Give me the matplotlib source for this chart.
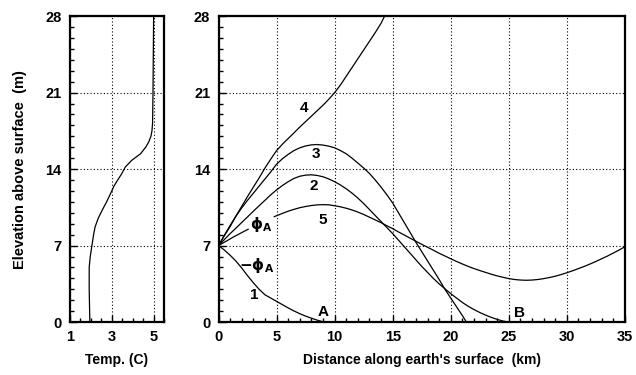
import matplotlib.pyplot as plt
from matplotlib.ticker import MultipleLocator

plt.rcParams['font.family'] = ['Liberation Sans', 'DejaVu Sans']
plt.rcParams['font.weight'] = 'bold'

# temperature profile (left panel)
temp = [1.95, 1.92, 1.92, 1.97, 2.05, 2.13, 2.20, 2.35, 2.53, 2.75, 3.00, 3.09, 3.28, 3.45,
        3.65, 3.95, 4.37, 4.62, 4.77, 4.87, 4.92, 4.95, 4.97, 5.00]
temp_z = [0, 3, 5, 6, 7, 8, 8.7, 9.5, 10.2, 11, 12, 12.4, 13, 13.5, 14.2, 14.8, 15.4, 16,
          16.5, 17, 17.5, 18.2, 21, 28]

# ray paths (right panel), distance in km, elevation in m
ray1_x = [0, 0.5, 1, 1.5, 2, 2.5, 3, 3.5, 4, 4.5, 5, 5.5, 6, 6.5, 7, 7.5, 8, 8.5, 9, 9.1]
ray1_z = [7, 6.6, 6.12, 5.58, 4.95, 4.25, 3.6, 3.0, 2.5, 2.2, 1.9, 1.6, 1.3, 1.02, 0.77,
          0.55, 0.36, 0.18, 0.03, 0]

ray2_x = [0, 0.5, 1, 1.5, 2, 2.5, 3, 3.5, 4, 4.5, 5, 5.5, 6, 6.5, 7, 7.5, 8, 8.5, 9, 9.5,
          10, 10.5, 11, 11.5, 12, 12.5, 13, 13.5, 14, 14.5, 15, 15.5, 16, 16.5, 17, 17.5,
          18, 18.5, 19, 19.5, 20, 20.5, 21, 21.5, 22, 22.5, 23, 23.5, 24, 24.5, 25]
ray2_z = [7, 7.55, 8.1, 8.6, 9.12, 9.63, 10.15, 10.65, 11.15, 11.65, 12.1, 12.5, 12.85,
          13.15, 13.35, 13.45, 13.48, 13.42, 13.3, 13.1, 12.85, 12.55, 12.2, 11.8, 11.35,
          10.85, 10.3, 9.75, 9.2, 8.65, 8.1, 7.5, 6.9, 6.3, 5.7, 5.1, 4.55, 4.0, 3.5, 3.05,
          2.6, 2.2, 1.8, 1.45, 1.15, 0.88, 0.64, 0.43, 0.25, 0.1, 0]

ray3_x = [0, 0.5, 1, 1.5, 2, 2.5, 3, 3.5, 4, 4.5, 5, 5.5, 6, 6.5, 7, 7.5, 8, 8.5, 9, 9.5,
          10, 10.5, 11, 11.5, 12, 12.5, 13, 13.5, 14, 14.5, 15, 15.5, 16, 16.5, 17, 17.5,
          18, 18.5, 19, 19.5, 20, 20.5, 21, 21.35]
ray3_z = [7, 7.95, 8.85, 9.7, 10.45, 11.15, 11.8, 12.45, 13.1, 13.75, 14.45, 14.95, 15.35,
          15.7, 15.95, 16.12, 16.22, 16.25, 16.2, 16.1, 15.95, 15.7, 15.4, 15.0, 14.55,
          14.1, 13.6, 13.0, 12.35, 11.65, 10.9, 10.0, 9.1, 8.2, 7.3, 6.45, 5.6, 4.75, 3.9,
          3.0, 2.2, 1.4, 0.6, 0]

ray4_x = [0, 0.5, 1, 1.5, 2, 2.5, 3, 3.5, 4, 4.5, 5, 5.5, 6, 6.5, 7, 7.5, 8, 8.5, 9, 9.5,
          10, 10.5, 11, 11.5, 12, 12.5, 13, 13.5, 14, 14.3]
ray4_z = [7, 7.9, 8.75, 9.7, 10.6, 11.5, 12.35, 13.2, 14.1, 14.92, 15.7, 16.28, 16.8,
          17.32, 17.85, 18.35, 18.85, 19.35, 19.85, 20.4, 21.0, 21.7, 22.5, 23.3, 24.1,
          24.9, 25.7, 26.5, 27.35, 28.0]

# ray 5 is broken by the phi_A label
ray5a_x = [0, 1.3, 2.55]
ray5a_z = [7, 7.8, 8.5]
ray5b_x = [4.8, 5.5, 6, 6.5, 7, 7.5, 8, 8.5, 9, 9.5, 10, 10.5, 11, 11.5, 12, 12.5, 13,
           13.5, 14, 14.5, 15, 15.5, 16, 16.5, 17, 17.5, 18, 18.5, 19, 19.5, 20, 20.5, 21,
           21.5, 22, 22.5, 23, 23.5, 24, 24.5, 25, 25.5, 26, 26.5, 27, 27.5, 28, 28.5, 29,
           29.5, 30, 30.5, 31, 31.5, 32, 32.5, 33, 33.5, 34, 34.5, 35]
ray5b_z = [9.65, 9.95, 10.15, 10.32, 10.47, 10.58, 10.67, 10.73, 10.75, 10.73, 10.65,
           10.55, 10.42, 10.26, 10.07, 9.85, 9.6, 9.35, 9.1, 8.82, 8.55, 8.25, 7.97, 7.68,
           7.4, 7.12, 6.85, 6.58, 6.3, 6.05, 5.8, 5.55, 5.32, 5.1, 4.9, 4.72, 4.55, 4.38,
           4.23, 4.1, 3.98, 3.9, 3.85, 3.83, 3.85, 3.9, 3.98, 4.08, 4.2, 4.35, 4.52, 4.7,
           4.9, 5.1, 5.32, 5.55, 5.8, 6.05, 6.32, 6.6, 6.9]

labels = ['4', '3', '2', '5', r'$\mathrm{\phi}_\mathrm{A}$', r'$-\mathrm{\phi}_\mathrm{A}$',
          '1', 'A', 'B']
label_x = [7.4, 8.4, 8.2, 9.0, 3.7, 3.3, 3.1, 9.0, 25.9]
label_z = [19.6, 15.4, 12.45, 9.3, 8.9, 5.2, 2.5, 0.95, 0.8]

fig = plt.figure(figsize=(6.36, 3.75), dpi=100)
ax1 = fig.add_axes([0.110, 0.141, 0.148, 0.816])
ax2 = fig.add_axes([0.3436, 0.141, 0.639, 0.816])

for ax in (ax1, ax2):
    for s in ax.spines.values():
        s.set_linewidth(1.6)
    ax.set_ylim(0, 28)
    ax.yaxis.set_major_locator(MultipleLocator(7))
    ax.yaxis.set_minor_locator(MultipleLocator(1))
    ax.tick_params(which='both', direction='in', labelsize=10.5, width=1.0)
    ax.tick_params(which='major', length=5, pad=6)
    ax.tick_params(which='minor', length=3)
    ax.grid(True, which='major', color='black', linestyle=(0, (1, 2)), linewidth=0.8)

ax1.plot(temp, temp_z, color='black', linewidth=0.9)
ax1.set_xlim(1, 5.5)
ax1.set_xticks([1, 3, 5])
ax1.xaxis.set_minor_locator(MultipleLocator(0.5))
ax1.set_xlabel('Temp. (C)', fontsize=10, fontweight='bold', labelpad=6)
ax1.set_ylabel('Elevation above surface  (m)', fontsize=10.5, fontweight='bold', labelpad=13)

for xs, zs in [(ray1_x, ray1_z), (ray2_x, ray2_z), (ray3_x, ray3_z), (ray4_x, ray4_z),
               (ray5a_x, ray5a_z), (ray5b_x, ray5b_z)]:
    ax2.plot(xs, zs, color='black', linewidth=0.9)

for t, x, z in zip(labels, label_x, label_z):
    ax2.text(x, z, t, fontsize=11, fontweight='bold', ha='center', va='center')

ax2.set_xlim(0, 35)
ax2.xaxis.set_major_locator(MultipleLocator(5))
ax2.xaxis.set_minor_locator(MultipleLocator(1))
ax2.set_xlabel("Distance along earth's surface  (km)", fontsize=10, fontweight='bold', labelpad=6)

fig.savefig('out.png', dpi=100)
